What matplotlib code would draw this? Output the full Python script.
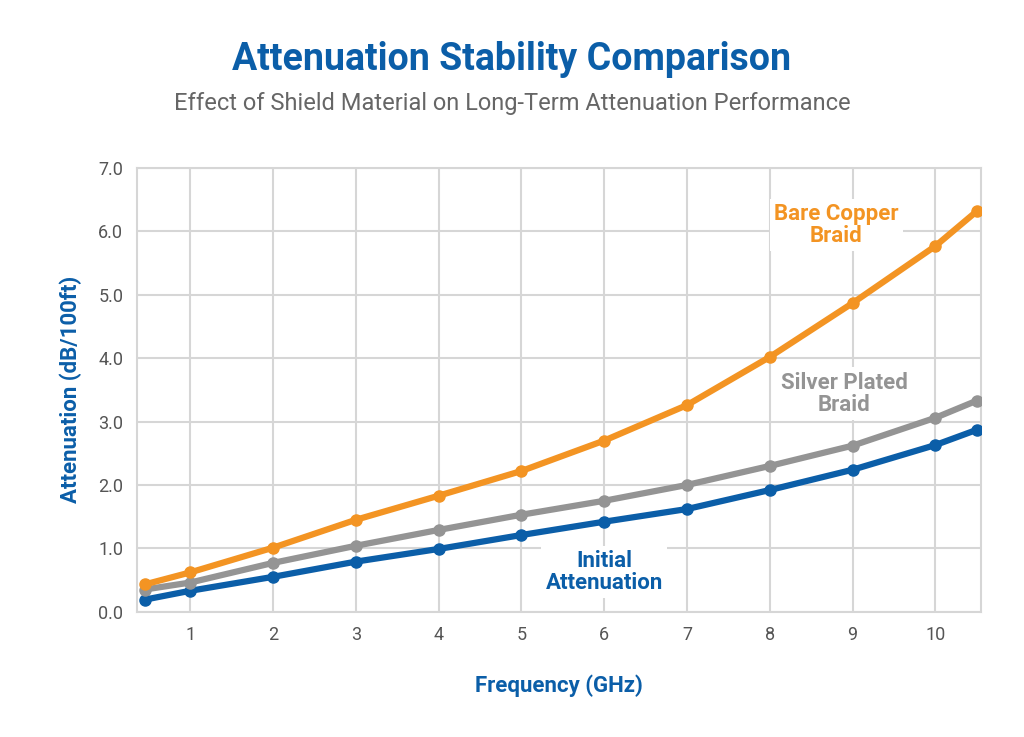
import matplotlib.pyplot as plt

plt.rcParams['font.family'] = ['Liberation Sans Narrow', 'Roboto', 'DejaVu Sans']

freq = [0.45, 1, 2, 3, 4, 5, 6, 7, 8, 9, 10, 10.5]
bare_copper = [0.43, 0.62, 1.01, 1.45, 1.83, 2.22, 2.70, 3.26, 4.02, 4.87, 5.77, 6.32]
silver_plated = [0.35, 0.46, 0.77, 1.04, 1.29, 1.53, 1.75, 2.00, 2.30, 2.62, 3.06, 3.33]
initial = [0.19, 0.33, 0.55, 0.79, 0.99, 1.21, 1.42, 1.62, 1.92, 2.24, 2.63, 2.87]
x_ticks = [1, 2, 3, 4, 5, 6, 7, 8, 9, 10]
y_ticks = [0, 1, 2, 3, 4, 5, 6, 7]

BLUE = "#0b5ea8"
ORANGE = "#f39423"
GRAY = "#949494"

fig = plt.figure(figsize=(10.24, 7.37), dpi=100)
ax = fig.add_axes([0.134, 0.170, 0.824, 0.602])

for y, c in [(initial, BLUE), (silver_plated, GRAY), (bare_copper, ORANGE)]:
    ax.plot(freq, y, color=c, lw=4.5, marker="o", ms=8, zorder=3)

ax.set_xlim(0.36, 10.55)
ax.set_ylim(0, 7)
ax.set_xticks(x_ticks)
ax.set_yticks(y_ticks)
ax.set_yticklabels([f"{v:.1f}" for v in y_ticks])
ax.grid(True, color="#d6d6d6", lw=1.5)
ax.tick_params(length=0, labelsize=13, colors="#555555", pad=10)
for s in ax.spines.values():
    s.set_color("#d6d6d6")
    s.set_linewidth(1.5)

ax.set_xlabel("Frequency (GHz)", color=BLUE, fontsize=16, fontweight="bold", labelpad=22)
ax.set_ylabel("Attenuation (dB/100ft)", color=BLUE, fontsize=16, fontweight="bold", labelpad=12)

box = dict(facecolor="white", edgecolor="none", pad=3)
ax.text(8.8, 6.1, "Bare Copper\nBraid", color=ORANGE, fontsize=16, fontweight="bold",
        ha="center", va="center", bbox=box, linespacing=1.0, zorder=4)
ax.text(8.9, 3.44, "Silver Plated\nBraid", color=GRAY, fontsize=16, fontweight="bold",
        ha="center", va="center", bbox=box, linespacing=1.0, zorder=4)
ax.text(6.0, 0.63, "Initial\nAttenuation", color=BLUE, fontsize=16, fontweight="bold",
        ha="center", va="center", bbox=box, linespacing=1.0, zorder=4)

fig.text(0.5, 0.919, "Attenuation Stability Comparison", color=BLUE, fontsize=27,
         fontweight="bold", ha="center", va="center")
fig.text(0.5, 0.86, "Effect of Shield Material on Long-Term Attenuation Performance",
         color="#666666", fontsize=17, ha="center", va="center")

fig.savefig("out.png", dpi=100, facecolor="white")
